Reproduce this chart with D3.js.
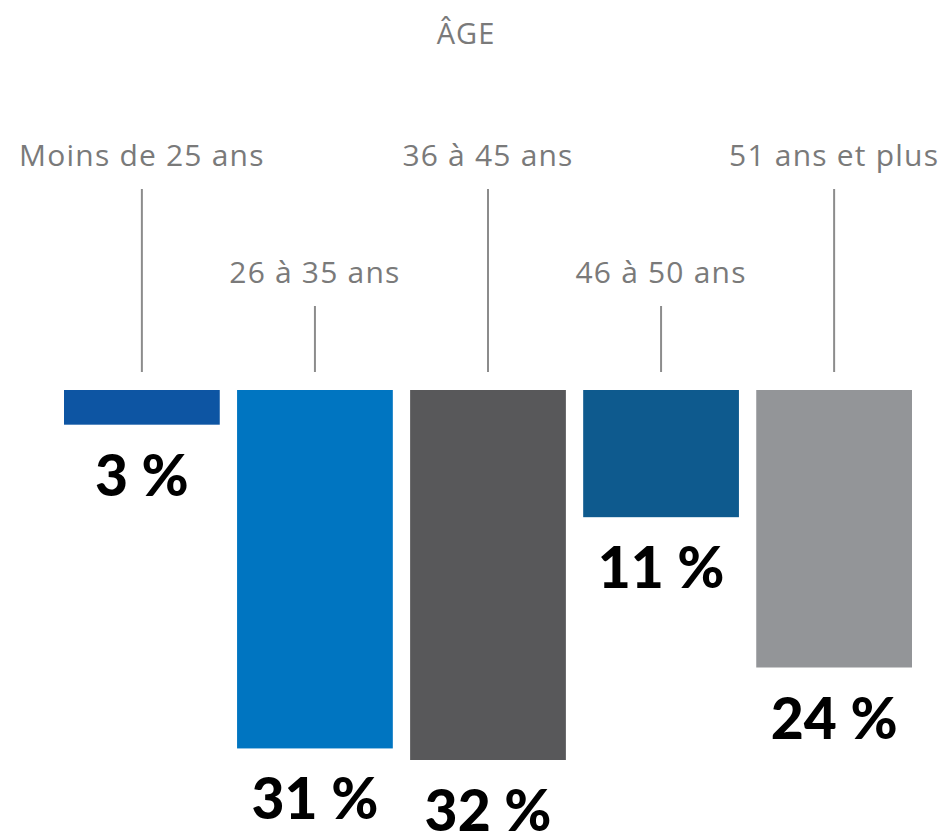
<!DOCTYPE html>
<html>
<head>
<meta charset="utf-8">
<script src="https://cdn.jsdelivr.net/npm/d3@7"></script>
<style>
  body { margin: 0; background: #fff; }
  svg { display: block; }
</style>
</head>
<body>
<div id="chart"></div>
<script>
// Age distribution (percent), bars hang down from a common baseline
var title = 'ÂGE';
var categories = ['Moins de 25 ans', '26 à 35 ans', '36 à 45 ans', '46 à 50 ans', '51 ans et plus'];
var values = [3, 31, 32, 11, 24];
var colors = ['#0d55a3', '#0075c1', '#58585a', '#0e5a8e', '#939598'];

var width = 943, height = 836;
var baseY = 390;

var svg = d3.select('#chart')
    .append('svg')
    .attr('width', width)
    .attr('height', height);

var x = d3.scaleBand()
    .domain(categories)
    .range([64, 912])
    .paddingInner(0.1)
    .paddingOuter(0);

var y = d3.scaleLinear()
    .domain([0, 32])
    .range([baseY, 760]);

var data = categories.map(function(c, i) {
    return {cat: c, value: values[i], color: colors[i], i: i};
});

var labelFont = '"Open Sans", sans-serif';

// title
svg.append('text')
    .attr('x', 466)
    .attr('y', 44)
    .attr('text-anchor', 'middle')
    .attr('font-family', labelFont)
    .attr('font-size', 29)
    .attr('letter-spacing', 1)
    .attr('fill', '#7a7a7a')
    .text(title);

// category labels, alternating on two rows
var labelY = function(d) { return d.i % 2 === 0 ? 166 : 283; };

svg.selectAll('.cat')
    .data(data)
    .enter().append('text')
    .attr('class', 'cat')
    .attr('x', function(d) { return x(d.cat) + x.bandwidth() / 2; })
    .attr('y', labelY)
    .attr('text-anchor', 'middle')
    .attr('font-family', labelFont)
    .attr('font-size', 30)
    .attr('letter-spacing', 1.2)
    .attr('fill', '#7a7a7a')
    .text(function(d) { return d.cat; });

svg.selectAll('.leader')
    .data(data)
    .enter().append('line')
    .attr('class', 'leader')
    .attr('x1', function(d) { return x(d.cat) + x.bandwidth() / 2; })
    .attr('x2', function(d) { return x(d.cat) + x.bandwidth() / 2; })
    .attr('y1', function(d) { return labelY(d) + 23; })
    .attr('y2', baseY - 18)
    .attr('stroke', '#8c8c8c')
    .attr('stroke-width', 2);

// bars
svg.selectAll('.bar')
    .data(data)
    .enter().append('rect')
    .attr('class', 'bar')
    .attr('x', function(d) { return x(d.cat); })
    .attr('y', y(0))
    .attr('width', x.bandwidth())
    .attr('height', function(d) { return y(d.value) - y(0); })
    .attr('fill', function(d) { return d.color; });

// value labels under each bar
svg.selectAll('.val')
    .data(data)
    .enter().append('text')
    .attr('class', 'val')
    .attr('x', function(d) { return x(d.cat) + x.bandwidth() / 2; })
    .attr('y', function(d) { return y(d.value) + 71; })
    .attr('text-anchor', 'middle')
    .attr('font-family', 'Lato, sans-serif')
    .attr('font-weight', 900)
    .attr('font-size', 57)
    .attr('fill', '#000')
    .text(function(d) { return d.value + ' %'; });
</script>
</body>
</html>
